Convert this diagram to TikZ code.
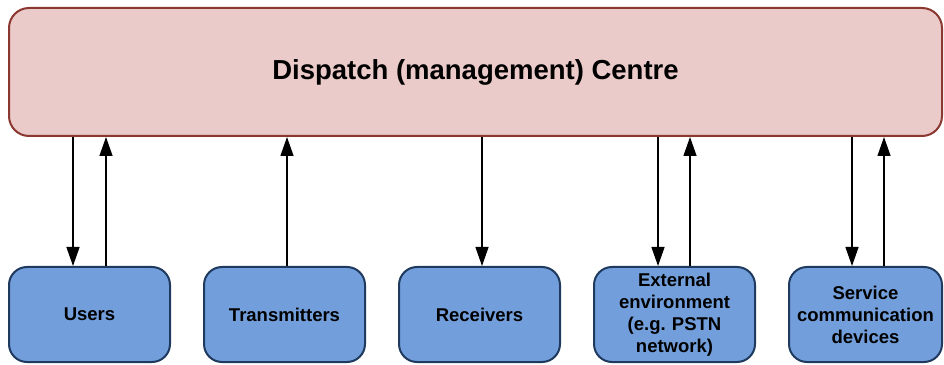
\documentclass[tikz,border=0pt]{standalone}
\usepackage{fontspec}
\setmainfont{Liberation Sans}
\usepackage{tikz}
\usetikzlibrary{arrows.meta,positioning}
\definecolor{CentreFill}{HTML}{EBCBCA}
\definecolor{CentreLine}{HTML}{8A3830}
\definecolor{UnitFill}{HTML}{729FDB}
\definecolor{UnitLine}{HTML}{1F3A5E}

\begin{document}
\begin{tikzpicture}[x=1pt, y=1pt, node distance=32pt, every node/.style={font=\bfseries}, centre/.style={rounded corners=20pt, draw=CentreLine, line width=2pt, fill=CentreFill, minimum width=933pt, minimum height=128pt, font=\fontsize{27.5}{32}\selectfont\bfseries}, unit/.style={rounded corners=18pt, draw=UnitLine, line width=2pt, fill=UnitFill, minimum width=161pt, minimum height=95pt, align=center, text width=150pt, inner sep=2pt, font=\fontsize{18.5}{22}\selectfont\bfseries}, arrow/.style={-{Triangle[length=19pt,width=13pt]}, line width=1.3pt, color=black}]
\useasboundingbox (0,0) rectangle (944,364);
\node[centre] (dc) at (475.5,292) {Dispatch (management) Centre};
\node[unit] (us) at (89.5,49.5) {Users};
\node[unit,right=of us] (tx) {Transmitters};
\node[unit,right=of tx] (rx) {Receivers};
\node[unit,right=of rx] (ee) {External\\environment\\(e.g.\ PSTN\\network)};
\node[unit,right=of ee,minimum width=153pt,text width=145pt] (sc) {Service\\communication\\devices};
% down: centre -> unit
\foreach \u/\dx in {us/-16.5,rx/2.5,ee/-16.5,sc/-13.5}{\draw[arrow] ([xshift=\dx pt]\u.north |- dc.south) -- ([xshift=\dx pt]\u.north);}
% up: unit -> centre
\foreach \u/\dx in {us/16.5,tx/2.5,ee/15.5,sc/18.5}{\draw[arrow] ([xshift=\dx pt]\u.north) -- ([xshift=\dx pt]\u.north |- dc.south);}
\end{tikzpicture}
\end{document}
